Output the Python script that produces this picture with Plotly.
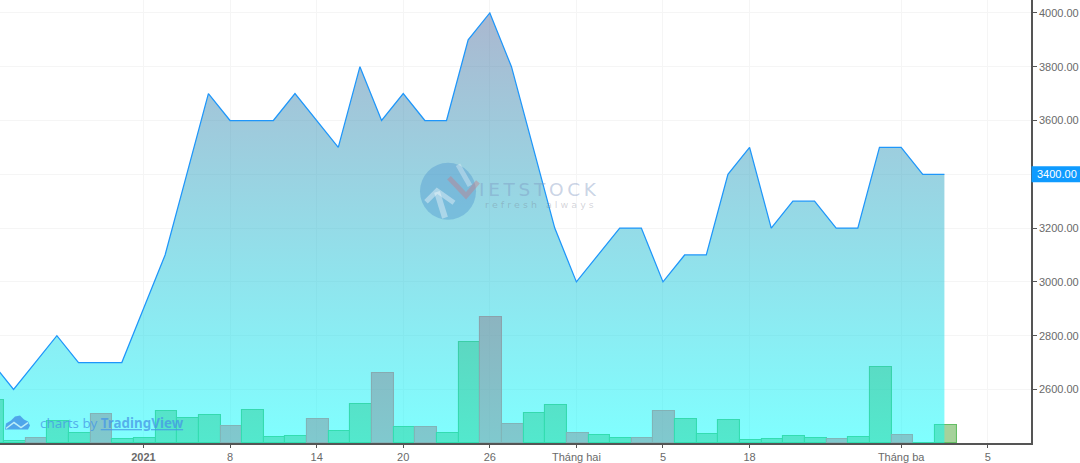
import plotly.graph_objects as go

# Session index (0 = first session of 2021)
sessions = list(range(-7, 38))
close = [2700, 2600, 2700, 2800, 2700, 2700, 2700, 2900, 3100, 3400, 3700, 3600, 3600, 3600,
         3700, 3600, 3500, 3800, 3600, 3700, 3600, 3600, 3900, 4000, 3800, 3500, 3200, 3000,
         3100, 3200, 3200, 3000, 3100, 3100, 3400, 3500, 3200, 3300, 3300, 3200, 3200, 3500,
         3500, 3400, 3400]
volume = [43, 2, 5, 22, 10, 29, 4, 5, 32, 25, 28, 17, 33, 6, 7, 24, 12, 39, 70, 16, 16, 10,
          101, 126, 19, 30, 38, 10, 8, 5, 5, 32, 24, 9, 23, 3, 4, 7, 5, 4, 6, 76, 8, 0, 18]
falling = [0, 0, 1, 0, 0, 1, 0, 0, 0, 0, 0, 1, 0, 0, 0, 1, 0, 0, 1, 0, 1, 0,
           0, 1, 1, 0, 0, 1, 0, 0, 1, 1, 0, 0, 0, 0, 0, 0, 0, 1, 0, 0, 1, 0, 0]
tick_pos = [0, 4, 8, 12, 16, 20, 24, 28, 35, 39]
tick_txt = ["<b>2021</b>", "8", "14", "20", "26", "Tháng hai", "5", "18", "Tháng ba", "5"]
price_ticks = [2600, 2800, 3000, 3200, 3400, 3600, 3800, 4000]
last_price = 3400

W, H = 1080, 463
PW, PH = 1031, 443.5
def px(x): return x / PW
def py(y): return 1 - y / PH
def poly(points, close_path=False):
    s = " ".join(("M" if i == 0 else "L") + f"{px(x)},{py(y)}" for i, (x, y) in enumerate(points))
    return s + (" Z" if close_path else "")

up_fill, up_line = "rgba(75,165,55,0.5)", "rgba(100,190,100,1)"
dn_fill, dn_line = "rgba(255,30,50,0.48)", "rgba(255,110,115,1)"
tick_font = dict(family="Liberation Sans", size=11, color="#6a6a6a")

fig = go.Figure()
fig.add_trace(go.Bar(
    x=sessions, y=volume, width=1, offset=-0.44, yaxis="y", hoverinfo="skip",
    marker=dict(color=[dn_fill if f else up_fill for f in falling],
                line=dict(color=[dn_line if f else up_line for f in falling], width=1.1)),
))
fig.add_trace(go.Scatter(
    x=sessions, y=close, yaxis="y2", mode="lines",
    line=dict(color="#1e96fa", width=1.25),
    fill="tozeroy",
    fillgradient=dict(type="vertical", start=2401, stop=4000,
                      colorscale=[[0, "rgba(0,255,255,0.5)"], [1, "rgba(85,112,160,0.5)"]]),
))

def wm_line(points, color, width):
    return dict(type="path", xref="paper", yref="paper", layer="above", fillcolor="rgba(0,0,0,0)",
                path=poly(points), line=dict(color=color, width=width))

shapes = [
    dict(type="circle", xref="paper", yref="paper", x0=px(420), x1=px(476), y0=py(220), y1=py(163),
         fillcolor="rgba(70,145,205,0.38)", line_width=0, layer="above"),
    wm_line([(445, 218), (437, 192)], "rgba(255,255,255,0.38)", 6),
    wm_line([(426, 202), (437, 191), (454, 203)], "rgba(255,255,255,0.38)", 5),
    wm_line([(458, 165), (470, 186)], "rgba(255,255,255,0.32)", 5),
    wm_line([(449, 178), (466, 196), (478, 182)], "rgba(200,120,130,0.4)", 5),
    dict(type="path", xref="paper", yref="paper", layer="above", line_width=0,
         fillcolor="rgba(70,150,230,0.85)",
         path=poly([(5, 430), (6, 424), (11, 421), (15, 417), (20, 416), (24, 420),
                    (28, 422), (30, 426), (28, 430)], True)),
    wm_line([(6, 429), (14, 423), (21, 428), (28, 423)], "rgba(200,245,250,0.9)", 1.5),
    dict(type="rect", xref="paper", yref="y2", x0=1.0005, x1=px(1080),
         y0=last_price - 30, y1=last_price + 30, fillcolor="#0f9bff", line_width=0, layer="above"),
]

annotations = [
    dict(xref="paper", yref="y2", x=px(1038), y=last_price, xanchor="left", yanchor="middle",
         text=f"{last_price:.2f}", showarrow=False, xshift=-3,
         font=dict(color="white", size=11, family="Liberation Sans")),
    dict(xref="paper", yref="paper", x=px(477), y=py(189.5), xanchor="left", yanchor="middle",
         text="\u2009".join("IETSTOCK"), showarrow=False,
         font=dict(color="rgba(120,145,190,0.4)", size=18.5, family="DejaVu Sans")),
    dict(xref="paper", yref="paper", x=px(483), y=py(205), xanchor="left", yanchor="middle",
         text="r e f r e s h   a l w a y s", showarrow=False,
         font=dict(color="rgba(110,110,130,0.3)", size=9.5, family="DejaVu Sans")),
    dict(xref="paper", yref="paper", x=px(38), y=py(423.5), xanchor="left", yanchor="middle",
         text="charts by <b><u>TradingView</u></b>", showarrow=False,
         font=dict(color="rgba(70,150,230,0.75)", size=13.4, family="Noto Sans")),
]

fig.update_layout(
    width=W, height=H, autosize=False, showlegend=False, bargap=0,
    margin=dict(l=0, r=W - PW, t=0, b=H - PH, pad=0),
    paper_bgcolor="white", plot_bgcolor="white",
    font=tick_font,
    xaxis=dict(range=[-6.627, 41.0], tickmode="array", tickvals=tick_pos, ticktext=tick_txt,
               ticks="outside", ticklen=3, tickcolor="#555", showline=True, linecolor="#555", linewidth=1.5,
               showgrid=True, gridcolor="#f5f5f5", gridwidth=1, zeroline=False, tickangle=0, tickfont=tick_font),
    yaxis=dict(range=[-0.5, 443], visible=False, showgrid=False, fixedrange=True),
    yaxis2=dict(range=[2401, 4048], overlaying="y", side="right", anchor="x", tickmode="array",
                tickvals=price_ticks, ticktext=[f"{v:.2f}" for v in price_ticks],
                ticks="outside", ticklen=4, tickcolor="#555", showline=True, linecolor="#555", linewidth=1.5,
                showgrid=True, gridcolor="#f5f5f5", gridwidth=1, zeroline=False, tickfont=tick_font),
    shapes=shapes, annotations=annotations,
)
fig.write_html("out.html", config={"displayModeBar": False},
               post_script="document.body.style.margin='0';document.documentElement.style.overflow='hidden';")
